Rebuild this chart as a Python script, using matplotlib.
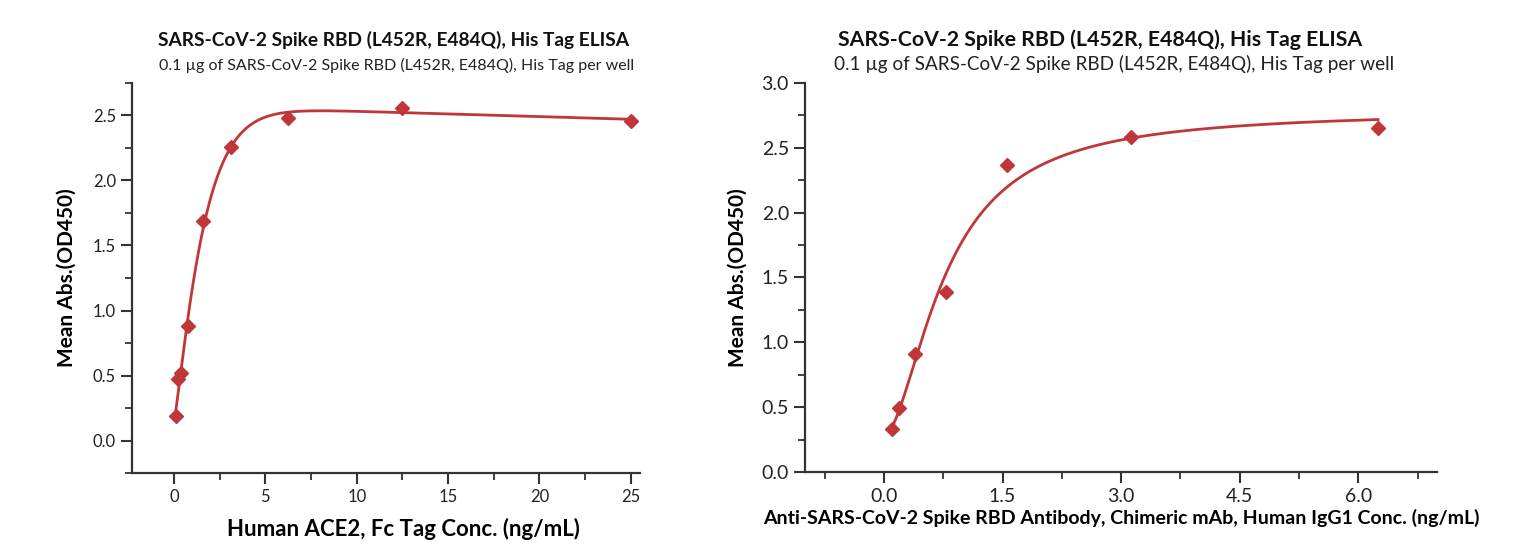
import numpy as np
import matplotlib
matplotlib.use("Agg")
import matplotlib.pyplot as plt
from matplotlib.ticker import MultipleLocator, FormatStrFormatter

plt.rcParams['font.family'] = ['Lato', 'DejaVu Sans']

RED = '#c0373a'
DARK = '#333333'

title = "SARS-CoV-2 Spike RBD (L452R, E484Q), His Tag ELISA"
subtitle = "0.1 \u00b5g of SARS-CoV-2 Spike RBD (L452R, E484Q), His Tag per well"
ylabel = "Mean Abs.(OD450)"

# left panel: Human ACE2, Fc Tag
ace2_conc = [0.098, 0.195, 0.39, 0.78, 1.5625, 3.125, 6.25, 12.5, 25]
ace2_od = [0.19, 0.47, 0.52, 0.88, 1.69, 2.26, 2.48, 2.56, 2.46]
ace2_xlabel = "Human ACE2, Fc Tag Conc. (ng/mL)"

# right panel: chimeric mAb
mab_conc = [0.098, 0.195, 0.39, 0.78, 1.5625, 3.125, 6.25]
mab_od = [0.33, 0.49, 0.91, 1.39, 2.37, 2.58, 2.65]
mab_xlabel = "Anti-SARS-CoV-2 Spike RBD Antibody, Chimeric mAb, Human IgG1 Conc. (ng/mL)"


def model(p, x):
    # 4PL/5PL with an optional linear term (hook at high conc.)
    a, d, lc, b, lg, e = p
    return d + (a - d) / (1 + (x / np.exp(lc)) ** b) ** np.exp(lg) + e * x


def fit_curve(x, y, free, wpow):
    # Levenberg-Marquardt, weights 1/y**wpow
    x = np.asarray(x, float)
    y = np.asarray(y, float)
    w = 1.0 / y ** wpow
    p = np.array([0.0, y.max(), np.log(np.median(x)), 1.5, 0.0, 0.0])
    mask = np.array(free, float)
    n = len(p)
    lam = 1e-2

    def cost(q):
        with np.errstate(all='ignore'):
            return np.sum((w * (y - model(q, x))) ** 2)

    sse = cost(p)
    for _ in range(3000):
        r = w * (y - model(p, x))
        J = np.zeros((len(x), n))
        for i in range(n):
            if mask[i] == 0:
                continue
            dp = np.zeros(n)
            dp[i] = 1e-6
            J[:, i] = w * (model(p + dp, x) - model(p - dp, x)) / 2e-6
        A = J.T @ J
        g = J.T @ r
        A = A + lam * np.diag(np.diag(A) + 1e-9)
        A[mask == 0, :] = 0
        A[:, mask == 0] = 0
        A[mask == 0, mask == 0] = 1
        g[mask == 0] = 0
        try:
            step = np.linalg.solve(A, g)
        except np.linalg.LinAlgError:
            lam *= 10
            continue
        pn = p + step
        sn = cost(pn)
        if np.isfinite(sn) and sn < sse:
            p, sse = pn, sn
            lam *= 0.3
        else:
            lam *= 10
    return p


def style_axis(ax, tick_size):
    for s in ['top', 'right']:
        ax.spines[s].set_visible(False)
    for s in ['left', 'bottom']:
        ax.spines[s].set_color(DARK)
        ax.spines[s].set_linewidth(1.6)
    ax.tick_params(which='major', direction='out', length=8, width=1.5,
                   color=DARK, labelsize=tick_size, labelcolor='#222222')
    ax.tick_params(which='minor', direction='out', length=5, width=1.3, color=DARK)


fig = plt.figure(figsize=(15.13, 5.56), dpi=100)

# left
ax1 = fig.add_axes([0.0872, 0.149, 0.3358, 0.702])
p1 = fit_curve(ace2_conc, ace2_od, [1, 1, 1, 1, 1, 1], 0.5)
xs = np.geomspace(min(ace2_conc), max(ace2_conc), 1000)
ax1.plot(xs, model(p1, xs), color=RED, lw=2)
ax1.plot(ace2_conc, ace2_od, 'D', color=RED, ms=7, mec=RED)
ax1.set_xlim(-2.3, 25.5)
ax1.set_ylim(-0.25, 2.75)
ax1.xaxis.set_major_locator(MultipleLocator(5))
ax1.xaxis.set_minor_locator(MultipleLocator(2.5))
ax1.yaxis.set_major_locator(MultipleLocator(0.5))
ax1.yaxis.set_minor_locator(MultipleLocator(0.25))
ax1.yaxis.set_major_formatter(FormatStrFormatter('%.1f'))
style_axis(ax1, 12)
ax1.set_xlabel(ace2_xlabel, fontsize=16, fontweight='bold', labelpad=8)
ax1.xaxis.set_label_coords(0.535, -0.115)
ax1.set_ylabel(ylabel, fontsize=15, fontweight='bold', labelpad=12)

# right
ax2 = fig.add_axes([0.532, 0.151, 0.418, 0.700])
p2 = fit_curve(mab_conc, mab_od, [1, 1, 1, 1, 0, 0], 0.5)
xs = np.geomspace(min(mab_conc), max(mab_conc), 1000)
ax2.plot(xs, model(p2, xs), color=RED, lw=2)
ax2.plot(mab_conc, mab_od, 'D', color=RED, ms=7, mec=RED)
ax2.set_xlim(-1.0, 7.0)
ax2.set_ylim(0, 3.0)
ax2.xaxis.set_major_locator(MultipleLocator(1.5))
ax2.xaxis.set_minor_locator(MultipleLocator(0.75))
ax2.yaxis.set_major_locator(MultipleLocator(0.5))
ax2.yaxis.set_minor_locator(MultipleLocator(0.25))
ax2.xaxis.set_major_formatter(FormatStrFormatter('%.1f'))
ax2.yaxis.set_major_formatter(FormatStrFormatter('%.1f'))
style_axis(ax2, 14)
ax2.set_xlabel(mab_xlabel, fontsize=14, fontweight='bold', labelpad=3)
ax2.set_ylabel(ylabel, fontsize=15, fontweight='bold', labelpad=10)

# titles
fig.text(394 / 1513, 1 - 40 / 556, title, ha='center', va='center',
         fontsize=13.8, fontweight='bold', color='#111111')
fig.text(397 / 1513, 1 - 65 / 556, subtitle, ha='center', va='center',
         fontsize=11.5, color='#222222')
fig.text(1100 / 1513, 1 - 40 / 556, title, ha='center', va='center',
         fontsize=15.3, fontweight='bold', color='#111111')
fig.text(1114 / 1513, 1 - 64 / 556, subtitle, ha='center', va='center',
         fontsize=13.6, color='#222222')

fig.savefig('out.png', dpi=100, facecolor='white')
